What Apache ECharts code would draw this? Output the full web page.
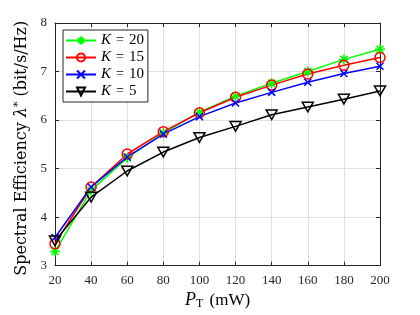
<!DOCTYPE html>
<html><head><meta charset="utf-8">
<script src="https://cdn.jsdelivr.net/npm/echarts@6/dist/echarts.min.js"></script>
<style>html,body{margin:0;padding:0;background:#fff}#c{width:420px;height:315px}</style>
</head><body><div id="c"></div>
<script>
const xValues = [20, 40, 60, 80, 100, 120, 140, 160, 180, 200];
const k20 = [3.29, 4.55, 5.22, 5.73, 6.16, 6.49, 6.76, 7.00, 7.25, 7.46];
const k15 = [3.45, 4.62, 5.30, 5.76, 6.15, 6.47, 6.72, 6.95, 7.13, 7.29];
const k10 = [3.58, 4.62, 5.24, 5.71, 6.07, 6.35, 6.57, 6.78, 6.96, 7.11];
const k5  = [3.51, 4.41, 4.95, 5.34, 5.64, 5.87, 6.11, 6.27, 6.43, 6.60];
const seriesNames = ['20', '15', '10', '5'];
const xTicks = {min: 20, max: 200, interval: 20};
const yTicks = {min: 3, max: 8, interval: 1};

const FONT = 'Liberation Serif';
const AX = '#262626';
const pair = a => a.map((v, i) => [xValues[i], v]);

const symAst = 'path://M-1,0L1,0M0,-1L0,1M-0.707,-0.707L0.707,0.707M-0.707,0.707L0.707,-0.707';
const symX = 'path://M-1,-1L1,1M-1,1L1,-1';
const symTri = 'path://M-1,-0.85L1,-0.85L0,0.9Z';

function mk(name, data, color, symbol, size) {
  return {
    name: name, type: 'line', data: pair(data),
    symbol: symbol, symbolSize: size, symbolKeepAspect: true,
    lineStyle: {color: color, width: 1.5},
    itemStyle: {color: 'rgba(0,0,0,0)', borderColor: color, borderWidth: 1.5},
    emphasis: {disabled: true}, animation: false
  };
}

const chart = echarts.init(document.getElementById('c'), null, {renderer: 'canvas'});
const axisCommon = {
  axisLine: {show: true, lineStyle: {color: AX, width: 1}},
  axisTick: {show: true, inside: true, length: 4, lineStyle: {color: AX}},
};
chart.setOption({
  backgroundColor: '#fff',
  animation: false,
  grid: {left: 55, right: 40, top: 23, bottom: 45, containLabel: false},
  legend: {
    left: 63, top: 30, orient: 'vertical',
    padding: [3, 4, 3, 2],
    borderColor: AX, borderWidth: 1, backgroundColor: '#fff',
    itemWidth: 30, itemHeight: 10, itemGap: 2,
    formatter: n => '{i|K}{eq|=}{n|' + n + '}',
    textStyle: {fontFamily: FONT, fontSize: 15, color: '#000', lineHeight: 15,
      rich: {i: {fontFamily: FONT, fontStyle: 'italic', fontSize: 15, color: '#000', lineHeight: 15},
             eq: {fontFamily: FONT, fontSize: 14, color: '#000', padding: [0, 5], lineHeight: 15},
             n: {fontFamily: FONT, fontSize: 15, color: '#000', lineHeight: 15}}},
    data: seriesNames
  },
  xAxis: [{
    type: 'value', min: xTicks.min, max: xTicks.max, interval: xTicks.interval,
    ...axisCommon,
    axisLabel: {fontFamily: FONT, fontSize: 13, color: AX, margin: 8},
    splitLine: {show: true, lineStyle: {color: '#e0e0e0', width: 1}},
    name: '{i|P}{sub|T} {t|(mW)}', nameLocation: 'middle', nameGap: 25,
    nameTextStyle: {fontFamily: FONT, fontSize: 17, color: '#000',
      rich: {i: {fontFamily: FONT, fontStyle: 'italic', fontSize: 18},
             sub: {fontFamily: FONT, fontSize: 12, padding: [7, 2, 0, 0]},
             t: {fontFamily: FONT, fontSize: 17}}}
  }, {
    type: 'value', position: 'top', min: xTicks.min, max: xTicks.max, interval: xTicks.interval,
    ...axisCommon, axisLabel: {show: false}, splitLine: {show: false}
  }],
  yAxis: [{
    type: 'value', min: yTicks.min, max: yTicks.max, interval: yTicks.interval,
    ...axisCommon,
    axisLabel: {fontFamily: FONT, fontSize: 13, color: AX, margin: 8},
    splitLine: {show: true, lineStyle: {color: '#e0e0e0', width: 1}},
    name: 'Spectral Efficiency {i|λ}{sup|*} (bit/s/Hz)', nameLocation: 'middle', nameGap: 19, nameRotate: 90,
    nameTextStyle: {fontFamily: 'DejaVu Serif', fontSize: 16, color: '#000', padding: [0, 8, 0, 0],
      rich: {i: {fontFamily: 'DejaVu Serif', fontStyle: 'italic', fontSize: 16},
             sup: {fontFamily: 'DejaVu Serif', fontSize: 11, padding: [0, 0, 7, 0]}}}
  }, {
    type: 'value', position: 'right', min: yTicks.min, max: yTicks.max, interval: yTicks.interval,
    ...axisCommon, axisLabel: {show: false}, splitLine: {show: false}
  }],
  series: [
    mk('20', k20, '#00ff00', symAst, 10),
    mk('15', k15, '#ff0000', 'circle', 10),
    mk('10', k10, '#0000ff', symX, 7),
    mk('5', k5, '#000000', symTri, 11)
  ]
});
</script></body></html>
